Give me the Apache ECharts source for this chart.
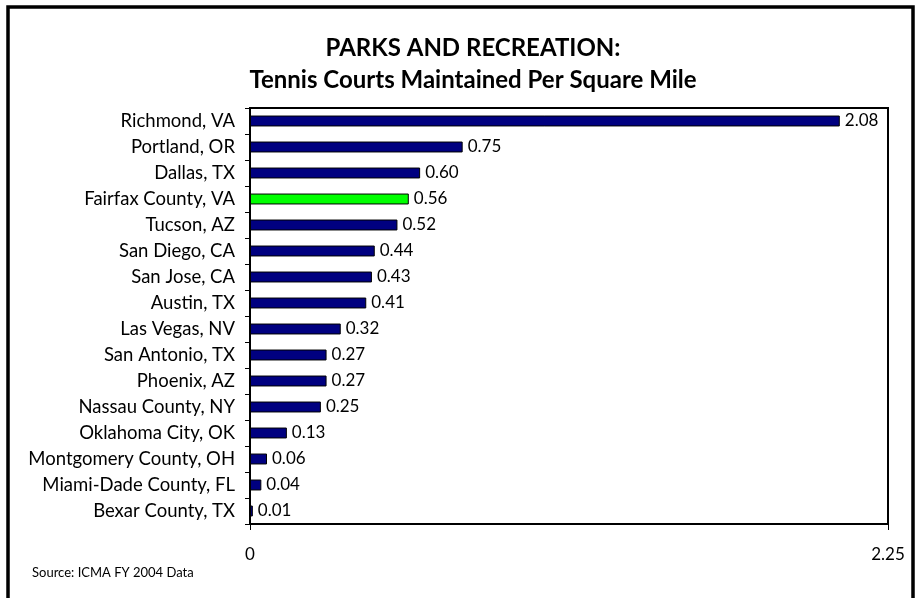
<!DOCTYPE html>
<html><head><meta charset="utf-8">
<script src="https://cdn.jsdelivr.net/npm/echarts@6/dist/echarts.min.js"></script>
<style>html,body{margin:0;padding:0;background:#fff}#c{width:917px;height:598px}</style>
</head><body><div id="c"></div>
<script>
const categories = ["Richmond, VA","Portland, OR","Dallas, TX","Fairfax County, VA","Tucson, AZ","San Diego, CA","San Jose, CA","Austin, TX","Las Vegas, NV","San Antonio, TX","Phoenix, AZ","Nassau County, NY","Oklahoma City, OK","Montgomery County, OH","Miami-Dade County, FL","Bexar County, TX"];
const values = [2.08,0.75,0.60,0.56,0.52,0.44,0.43,0.41,0.32,0.27,0.27,0.25,0.13,0.06,0.04,0.01];
const highlight = "Fairfax County, VA";
const xTicks = [0, 2.25];

const font = "Lato, 'Open Sans', sans-serif";
const chart = echarts.init(document.getElementById('c'));
chart.setOption({
  animation:false,
  backgroundColor:'#fff',
  title:{
    text:'PARKS AND RECREATION:\nTennis Courts Maintained Per Square Mile',
    left:468, top:27, textAlign:'center',
    textStyle:{fontFamily:font,fontSize:24,fontWeight:'bold',color:'#000',lineHeight:32}
  },
  graphic:[
    {type:'rect',shape:{x:8,y:7,width:905,height:620},style:{fill:'none',stroke:'#000',lineWidth:3.5},silent:true},
    {type:'text',left:32,top:566,style:{text:'Source: ICMA FY 2004 Data',fontFamily:font,fontSize:13,fill:'#000'}}
  ],
  grid:{left:250,right:29,top:108,bottom:74,show:true,borderColor:'#000',borderWidth:2,backgroundColor:'#fff'},
  xAxis:{
    type:'value',min:xTicks[0],max:xTicks[1],interval:xTicks[1]-xTicks[0],
    axisLine:{show:true,lineStyle:{color:'#000',width:2}},
    axisTick:{show:true,length:6,lineStyle:{color:'#000'}},
    splitLine:{show:false},
    axisLabel:{margin:22,fontFamily:font,fontSize:17,color:'#000',formatter:v=>v===0?'0':v.toFixed(2)}
  },
  yAxis:{
    type:'category',data:categories,inverse:true,
    axisLine:{show:true,lineStyle:{color:'#000',width:2}},
    axisTick:{show:true,length:5,lineStyle:{color:'#000'}},
    axisLabel:{margin:15,fontFamily:font,fontSize:18.5,color:'#000'}
  },
  series:[{
    type:'bar',barCategoryGap:'58%',
    data:values.map((v,i)=>({value:v,itemStyle:{color:categories[i]===highlight?'#00ff00':'#000080'}})),
    itemStyle:{borderColor:'#000',borderWidth:1},
    label:{show:true,position:'right',distance:5,fontFamily:font,fontSize:17,color:'#000',formatter:p=>p.value.toFixed(2)}
  }]
});
</script></body></html>
